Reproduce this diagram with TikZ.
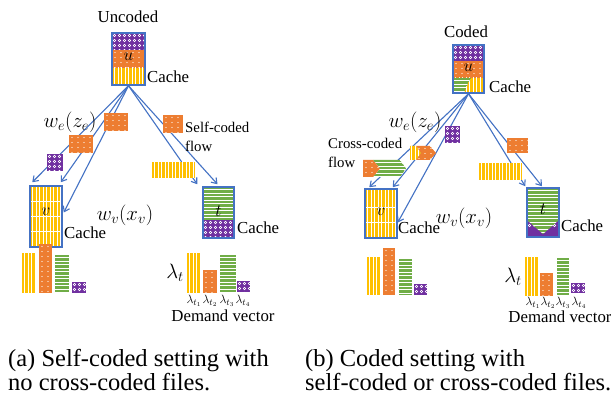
\documentclass[tikz,border=0pt]{standalone}
\usepackage{fontspec}
\setmainfont{Liberation Serif}
\usetikzlibrary{arrows.meta,calc}
\definecolor{cy}{HTML}{FFC000}
\definecolor{co}{HTML}{ED7D31}
\definecolor{cg}{HTML}{70AD47}
\definecolor{cp}{HTML}{7030A0}
\definecolor{cb}{HTML}{4472C4}
% pattern fills: path, then bbox x1 y1
\newcommand\Ypoly[3]{\begin{scope}\clip #1;\fill[cy] #1;
  \foreach \d in {2.5,6,...,60}{\draw[white,line width=0.9pt] ({#2+\d},{#3-2}) -- ({#2+\d},{#3+60});}\end{scope}}
\newcommand\Gpoly[3]{\begin{scope}\clip #1;\fill[cg] #1;
  \foreach \d in {2.5,6,...,60}{\draw[white,line width=0.9pt] ({#2-2},{#3+\d}) -- ({#2+60},{#3+\d});}\end{scope}}
\newcommand\Opoly[3]{\begin{scope}\clip #1;\fill[co] #1;
  \foreach \i in {3,9,...,60}{\foreach \j in {2.5,7.5,...,55}{\fill[white] ({#2+\i},{#3+\j}) circle (0.65);}}\end{scope}}
\newcommand\Ppoly[3]{\begin{scope}\clip #1;\fill[cp] #1;
  \foreach \i in {2.5,7.5,...,40}{\foreach \j in {2.5,7.5,...,40}{\draw[white,line width=0.6pt] ({#2+\i},{#3+\j}) circle (1.3);}}\end{scope}}
\newcommand\Ypat[4]{\Ypoly{(#1,#2) rectangle (#3,#4)}{#1}{#2}}
\newcommand\Gpat[4]{\Gpoly{(#1,#2) rectangle (#3,#4)}{#1}{#2}}
\newcommand\Opat[4]{\Opoly{(#1,#2) rectangle (#3,#4)}{#1}{#2}}
\newcommand\Ppat[4]{\Ppoly{(#1,#2) rectangle (#3,#4)}{#1}{#2}}
\begin{document}
\begin{tikzpicture}[x=1pt,y=-1pt,
  cbox/.style={draw=cb,line width=1.5pt,inner sep=0pt},
  lab/.style={font=\fontsize{16.8}{19}\selectfont,inner sep=0pt},
  slab/.style={font=\fontsize{14.8}{17}\selectfont,inner sep=0pt,anchor=west},
  mlab/.style={font=\fontsize{21}{24}\selectfont,inner sep=0pt},
  blab/.style={font=\fontsize{18}{20}\selectfont,inner sep=0pt},
  sublab/.style={font=\fontsize{13}{15}\selectfont,inner sep=0pt},
  caplab/.style={font=\fontsize{24.5}{28}\selectfont,inner sep=0pt,anchor=base west},
  flow/.style={draw=cb,line width=1.1pt,-{Straight Barb[length=5pt,width=7pt]}}]
\useasboundingbox (0,0) rectangle (611,403);
\fill[white] (0,0) rectangle (611,403);

%%%%%%%%%%%% (a)
\node[lab] (unc) at (128,17) {Uncoded};
\Ppat{112}{33}{145}{50}
\Opat{112}{50}{145}{68}
\Ypat{112}{68}{145}{85}
\node[cbox,minimum width=33pt,minimum height=52pt] (u1) at (128.5,59) {};
\node[blab] (u1l) at (128.5,57) {$u$};
\node[lab,anchor=west] (c1a) at (147,77) {Cache};

% v box
\Ypat{30}{186}{62}{247}
\foreach \yy in {201,216,231}{\draw[white,line width=0.8pt] (30,\yy) -- (62,\yy);}
\node[cbox,minimum width=32pt,minimum height=61pt] (v1) at (46,216.5) {};
\node[blab] (v1l) at (46,212) {$v$};
\node[lab,anchor=west] (c1b) at (64,233) {Cache};

% t box
\Gpat{203}{187}{234}{220}
\Ppat{203}{220}{234}{238}
\node[cbox,minimum width=31pt,minimum height=51pt] (t1) at (218.5,212.5) {};
\node[blab] (t1l) at (218.5,211) {$t$};
\node[lab,anchor=west] (c1c) at (237,228) {Cache};

% connectors
\draw[flow] (u1.south) -- ([shift={(3,-3)}]v1.north west);
\draw[flow] (u1.south) -- ([shift={(-2,-3)}]v1.north east);
\draw[flow] (u1.south) -- ([shift={(1,-4)}]v1.east);
\draw[flow] (u1.south) -- ([shift={(-5,-2)}]t1.north west);
\draw[flow] (u1.south) -- ([shift={(-1,-2)}]t1.north);

% flows
\Opat{104}{113}{128}{131}
\Opat{69}{135}{93}{153}
\Ppat{47}{154}{63}{171}
\Opat{163}{115}{183}{133}
\Ypat{152}{162}{195}{178}
\node[mlab] (we1) at (70,122) {$w_e(z_e)$};
\node[mlab] (wv1) at (125,215) {$w_v(x_v)$};
\node[slab] (sc1) at (185,127) {Self-coded};
\node[slab] (sc2) at (185,146) {flow};

% bars
\Ypat{22}{253}{36}{293}
\Opat{39}{244}{52}{293}
\Gpat{55}{255}{69}{293}
\Ppat{72}{282}{86}{293}
\Ypat{187}{253}{201}{293}
\Opat{203}{270}{217}{293}
\Gpat{220}{255}{236}{293}
\Ppat{237}{281}{250}{292}
\node[mlab] (lam1) at (175,273) {$\lambda_t$};
\node[sublab] (l11) at (194,301) {$\lambda_{t_1}$};
\node[sublab] (l12) at (210,301) {$\lambda_{t_2}$};
\node[sublab] (l13) at (227,301) {$\lambda_{t_3}$};
\node[sublab] (l14) at (243,301) {$\lambda_{t_4}$};
\node[lab] (dv1) at (223,316) {Demand vector};

%%%%%%%%%%%% (b)
\node[lab] (cod) at (466,32) {Coded};
\Ppat{453}{45}{484}{61}
\Opat{453}{61}{484}{78}
\Ypat{453}{78}{484}{93}
\Gpoly{(453,78) -- (471,78) -- (468,83) -- (466,88) -- (464,93) -- (453,93) -- cycle}{453}{78}
\node[cbox,minimum width=31pt,minimum height=48pt] (u2) at (468.5,69) {};
\node[blab] (u2l) at (468.5,68) {$u$};
\node[lab,anchor=west] (c2a) at (489,87) {Cache};

% v box
\Ypat{365}{189}{397}{238}
\foreach \yy in {207,222}{\draw[white,line width=0.8pt] (365,\yy) -- (397,\yy);}
\node[cbox,minimum width=32pt,minimum height=49pt] (v2) at (381,213.5) {};
\node[blab] (v2l) at (381,212) {$v$};
\node[lab,anchor=west] (c2b) at (398,228) {Cache};

% t box
\Ppat{527}{188}{559}{237}
\Gpoly{(527,188) -- (559,188) -- (559,220) -- (543,234) -- (527,220) -- cycle}{527}{188}
\node[cbox,minimum width=32pt,minimum height=49pt] (t2) at (543,212.5) {};
\node[blab] (t2l) at (543,209) {$t$};
\node[lab,anchor=west] (c2c) at (561,226) {Cache};

% connectors
\draw[flow] (u2.south) -- ([shift={(5,-1)}]v2.north west);
\draw[flow] (u2.south) -- ([shift={(-5,-1)}]v2.north east);
\draw[flow] (u2.south) -- ([shift={(0,9)}]v2.east);
\draw[flow] (u2.south) -- ([shift={(-1,-1)}]t2.north west);
\draw[flow] (u2.south) -- ([shift={(-1,-1)}]t2.north);

% flows
\Ppat{445}{126}{460}{143}
\Opoly{(416,146) -- (430,146) -- (436,153) -- (430,160) -- (416,160) -- (421,153) -- cycle}{416}{146}
\Ypoly{(410,146) -- (416,146) -- (421,153) -- (416,160) -- (410,160) -- cycle}{409}{146}
\Gpoly{(373,160) -- (400,160) -- (406,168.5) -- (400,177) -- (373,177) -- (380,168.5) -- cycle}{373}{160}
\Opoly{(363,160) -- (373,160) -- (380,168.5) -- (373,177) -- (363,177) -- cycle}{363}{160}
\Opat{507}{138}{528}{153}
\Ypat{479}{163}{522}{180}
\node[mlab] (we2) at (415,122) {$w_e(z_e)$};
\node[mlab] (wv2) at (464,218) {$w_v(x_v)$};
\node[slab] (cc1) at (328,143) {Cross-coded};
\node[slab] (cc2) at (328,162) {flow};

% bars
\Ypat{367}{257}{380}{295}
\Opat{383}{248}{395}{295}
\Gpat{399}{259}{412}{295}
\Ppat{414}{284}{427}{295}
\Ypat{525}{257}{539}{296}
\Opat{540}{273}{553}{296}
\Gpat{557}{258}{569}{296}
\Ppat{571}{283}{585}{293}
\node[mlab] (lam2) at (513,277) {$\lambda_t$};
\node[sublab] (l21) at (533,303) {$\lambda_{t_1}$};
\node[sublab] (l22) at (548,303) {$\lambda_{t_2}$};
\node[sublab] (l23) at (563,303) {$\lambda_{t_3}$};
\node[sublab] (l24) at (579,303) {$\lambda_{t_4}$};
\node[lab] (dv2) at (560,317) {Demand vector};

%%%%%%%%%%%% captions
\node[caplab] (capa1) at (8,367) {(a) Self-coded setting with};
\node[caplab] (capa2) at (8,391) {no cross-coded files.};
\node[caplab] (capb1) at (305,367) {(b) Coded setting with};
\node[caplab] (capb2) at (305,391) {self-coded or cross-coded files.};
\end{tikzpicture}
\end{document}
